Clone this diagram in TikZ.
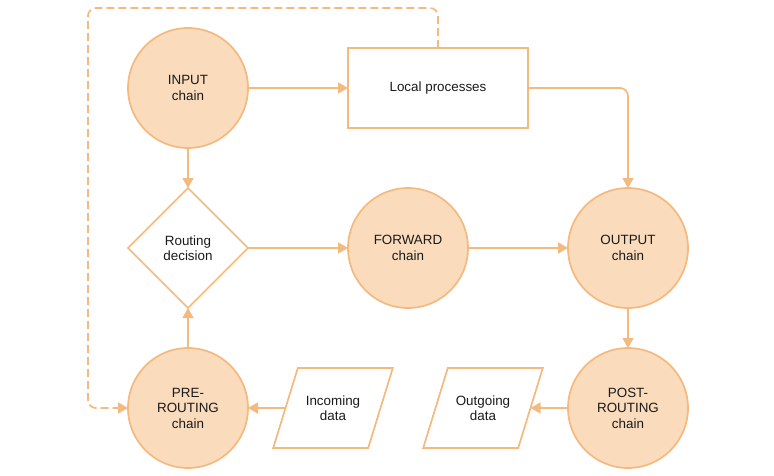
\documentclass[tikz,border=0pt]{standalone}
\usepackage{fontspec}
\setmainfont{Liberation Sans}
\usetikzlibrary{
  	positioning,
  	arrows.meta,
  	shapes.geometric
  }
\definecolor{chainfill}{HTML}{FADCBD}
\definecolor{chainline}{HTML}{F4B97E}
\definecolor{labeltext}{HTML}{1A1A1A}

\begin{document}
\begin{tikzpicture}[x=1pt, y=1pt,
  every node/.style={font=\fontsize{13.4}{15.5}\selectfont, text=labeltext, align=center, outer sep=0pt},
  chain/.style={circle, draw=chainline, fill=chainfill, line width=1.7pt, minimum size=120pt, inner sep=0pt},
  procbox/.style={rectangle, draw=chainline, line width=1.7pt, minimum width=180pt, minimum height=80pt},
  decide/.style={diamond, draw=chainline, line width=1.7pt, minimum width=120pt, minimum height=120pt, inner sep=0pt},
  databox/.style={trapezium, trapezium left angle=53.13, trapezium right angle=126.87, trapezium stretches=true, draw=chainline, line width=1.7pt, minimum width=120pt, minimum height=80pt, inner sep=0pt},
  flow/.style={draw=chainline, line width=1.7pt, -{Triangle[length=10pt, width=11pt]}}]
	\useasboundingbox (0,0) rectangle (774,-475);
	\node[chain] (input) at (188,-88) {INPUT\\chain};
	\node[procbox, right=100pt of input] (local) {Local processes};
	\node[decide, below=40pt of input] (decision) {Routing\\decision};
	\node[chain, below=40pt of decision] (prerouting) {PRE-\\ROUTING\\chain};
	\node[chain, right=100pt of decision] (forward) {FORWARD\\chain};
	\node[chain, right=100pt of forward] (output) {OUTPUT\\chain};
	\node[chain, below=40pt of output] (postrouting) {POST-\\ROUTING\\chain};
	\node[databox] (incoming) at (333,-408) {Incoming\\data};
	\node[databox] (outgoing) at (483,-408) {Outgoing\\data};
	\coordinate (loopcorner) at (88,-8);
%
	\draw[flow] (input) -- (local);
	\draw[flow, rounded corners=8pt] (local.east) -| (output.north);
	\draw[flow] (input) -- (decision);
	\draw[flow] (prerouting) -- (decision);
	\draw[flow] (decision) -- (forward);
	\draw[flow] (forward) -- (output);
	\draw[flow] (output) -- (postrouting);
	\draw[flow] (postrouting) -- (outgoing);
	\draw[flow] (incoming) -- (prerouting);
	\draw[flow, dash pattern=on 8pt off 4pt, rounded corners=8pt] (local.north) |- (loopcorner) |- (prerouting.west);
\end{tikzpicture}
\end{document}
